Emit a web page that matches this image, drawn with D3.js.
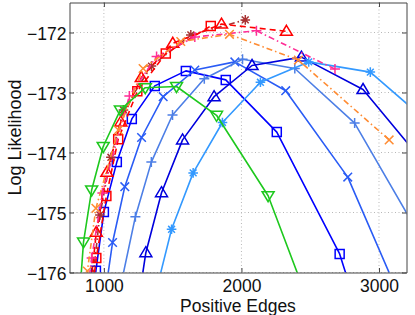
<!DOCTYPE html>
<html><head><meta charset="utf-8">
<script src="https://cdn.jsdelivr.net/npm/d3@7"></script>
<style>body{margin:0;background:#fff}</style>
</head><body><svg id="c" width="415" height="315"></svg>
<script>
// ---- axis ticks / domains ----
const xTicks = [1000, 2000, 3000];
const yTicks = [-176, -175, -174, -173, -172];
const xDomain = [750, 3200];
const yDomain = [-176, -171.5];

// ---- series data ----
const greenTriX = [820, 852, 911, 995, 1120, 1301, 1528, 1819, 2194, 2575];
const greenTriY = [-176.5, -175.49, -174.625, -173.9, -173.29, -172.92, -172.9, -173.38, -174.72, -177.03];

const blueSqX = [920, 942, 1000, 1094, 1203, 1370, 1596, 1886, 2257, 2714, 3100];
const blueSqY = [-176.6, -175.97, -174.99, -174.16, -173.44, -172.89, -172.64, -172.79, -173.66, -175.69, -178.5];

const blueXX = [1000, 1063, 1152, 1274, 1431, 1661, 1952, 2322, 2773, 3300];
const blueXY = [-176.5, -175.5, -174.57, -173.75, -173.07, -172.625, -172.49, -172.97, -174.41, -177.2];

const steelPlusX = [1115, 1229, 1345, 1499, 1730, 2008, 2388, 2823, 3300];
const steelPlusY = [-176.3, -175.07, -174.16, -173.375, -172.77, -172.445, -172.6, -173.51, -175.4];

const blueTriX = [1250, 1305, 1419, 1572, 1801, 2077, 2436, 2884, 3300];
const blueTriY = [-176.5, -175.67, -174.67, -173.79, -173.07, -172.55, -172.41, -172.95, -174.1];

const skyStarX = [1370, 1492, 1649, 1862, 2138, 2489, 2937, 3300];
const skyStarY = [-176.4, -175.28, -174.34, -173.5, -172.83, -172.49, -172.66, -173.38];

const redSqX = [905, 945, 1018, 1104, 1243, 1450, 1777];
const redSqY = [-176.5, -175.76, -174.725, -173.78, -172.98, -172.35, -171.89];

const redTriX = [890, 945, 1022, 1123, 1272, 1501, 1855, 2327];
const redTriY = [-176.5, -175.33, -174.33, -173.49, -172.75, -172.18, -171.86, -171.98];

const brownStarX = [900, 971, 1051, 1142, 1346, 1632, 2028];
const brownStarY = [-176.5, -175.04, -174.08, -173.29, -172.56, -172.04, -171.79];

const pinkPlusX = [870, 911, 989, 1185, 1383, 1661, 2109, 2680];
const pinkPlusY = [-176.5, -175.76, -174.675, -173.06, -172.4, -172.075, -171.97, -172.61];

const orangeXX = [850, 880, 942, 1105, 1285, 1559, 1913, 2414, 3074];
const orangeXY = [-176.5, -175.975, -174.93, -173.625, -172.6, -172.15, -172.03, -172.46, -173.79];

// ---- styles (separate from data) ----
const DASH = "6,4", DASHDOT = "6,3,1.5,3";
const series = [
  {x: blueSqX, y: blueSqY, color: "#0000ff", marker: "square"},
  {x: blueXX, y: blueXY, color: "#2a5cf5", marker: "x"},
  {x: steelPlusX, y: steelPlusY, color: "#4d7fe6", marker: "plus"},
  {x: blueTriX, y: blueTriY, color: "#0000dd", marker: "triUp"},
  {x: skyStarX, y: skyStarY, color: "#3399ff", marker: "star"},
  {x: brownStarX, y: brownStarY, color: "#a83232", marker: "star", dash: DASHDOT},
  {x: redSqX, y: redSqY, color: "#ff0000", marker: "square", dash: DASH},
  {x: redTriX, y: redTriY, color: "#ff0000", marker: "triUp", dash: DASH},
  {x: pinkPlusX, y: pinkPlusY, color: "#ff2d96", marker: "plus", dash: DASHDOT},
  {x: orangeXX, y: orangeXY, color: "#ff8c33", marker: "x", dash: DASHDOT},
  {x: greenTriX, y: greenTriY, color: "#1ec81e", marker: "triDown"}
];

function markerPath(t) {
  switch (t) {
    case "square": return "M-4.5,-4.5h9v9h-9Z";
    case "triUp": return "M0,-6L6,4L-6,4Z";
    case "triDown": return "M0,6L6,-4L-6,-4Z";
    case "x": return "M-4.3,-4.3L4.3,4.3M-4.3,4.3L4.3,-4.3";
    case "plus": return "M-5,0H5M0,-5V5";
    case "star": return "M-4.8,0H4.8M0,-4.8V4.8M-3.4,-3.4L3.4,3.4M-3.4,3.4L3.4,-3.4";
  }
}

const W = 415, H = 315;
const m = {l: 69.5, r: 406.5, t: 2.5, b: 272.5};
const FONT = "'Liberation Sans', Arial, Helvetica, sans-serif";
const x = d3.scaleLinear().domain(xDomain).range([m.l, m.r]);
const y = d3.scaleLinear().domain(yDomain).range([m.b, m.t]);
const svg = d3.select("#c");
svg.append("rect").attr("width", W).attr("height", H).attr("fill", "#fff");

// grid
const grid = svg.append("g").attr("stroke", "#b8b8b8").attr("stroke-width", 1).attr("stroke-dasharray", "1,2.5");
grid.selectAll(".gx").data(xTicks).join("line")
  .attr("x1", d => x(d)).attr("x2", d => x(d)).attr("y1", m.t).attr("y2", m.b);
grid.selectAll(".gy").data(yTicks).join("line")
  .attr("y1", d => y(d)).attr("y2", d => y(d)).attr("x1", m.l).attr("x2", m.r);

// clip
svg.append("defs").append("clipPath").attr("id", "clip").append("rect")
  .attr("x", m.l).attr("y", m.t).attr("width", m.r - m.l).attr("height", m.b - m.t);
const plot = svg.append("g").attr("clip-path", "url(#clip)");
const line = d3.line().x(d => x(d[0])).y(d => y(d[1]));
series.forEach(s => {
  const pts = s.x.map((v, i) => [v, s.y[i]]);
  plot.append("path").datum(pts).attr("d", line).attr("fill", "none")
    .attr("stroke", s.color).attr("stroke-width", 1.6)
    .attr("stroke-linejoin", "round")
    .attr("stroke-dasharray", s.dash || null);
  plot.append("g").selectAll("path").data(pts).join("path")
    .attr("transform", d => `translate(${x(d[0])},${y(d[1])})`)
    .attr("d", markerPath(s.marker)).attr("fill", "none")
    .attr("stroke", s.color).attr("stroke-width", 1.5);
});

// axes
const fmt = d3.format("d");
function style(g) {
  g.attr("font-size", 17.5).attr("font-family", FONT);
  g.select(".domain").attr("stroke", "#444");
  g.selectAll(".tick line").attr("stroke", "#444");
  g.selectAll(".tick text").attr("fill", "#111");
}
svg.append("g").attr("transform", `translate(0,${m.b})`)
  .call(d3.axisBottom(x).tickValues(xTicks).tickSizeInner(-4.5).tickSizeOuter(0).tickPadding(7.5).tickFormat(fmt))
  .call(style);
svg.append("g").attr("transform", `translate(0,${m.t})`)
  .call(d3.axisTop(x).tickValues(xTicks).tickSizeInner(-4.5).tickSizeOuter(0).tickFormat(""))
  .call(style);
const ly = svg.append("g").attr("transform", `translate(${m.l},0)`)
  .call(d3.axisLeft(y).tickValues(yTicks).tickSizeInner(-4.5).tickSizeOuter(0).tickPadding(3).tickFormat(fmt))
  .call(style);
ly.selectAll(".tick text").attr("dy", "0.38em");
svg.append("g").attr("transform", `translate(${m.r},0)`)
  .call(d3.axisRight(y).tickValues(yTicks).tickSizeInner(-4.5).tickSizeOuter(0).tickFormat(""))
  .call(style);

// labels
svg.append("text").attr("x", (m.l + m.r) / 2).attr("y", 311.5).attr("text-anchor", "middle")
  .attr("font-family", FONT).attr("font-size", 17.5).attr("fill", "#111").text("Positive Edges");
svg.append("text").attr("transform", `translate(20.5,${(m.t + m.b) / 2}) rotate(-90)`)
  .attr("text-anchor", "middle").attr("font-family", FONT).attr("font-size", 18).attr("fill", "#111")
  .text("Log Likelihood");
</script>
</body></html>
